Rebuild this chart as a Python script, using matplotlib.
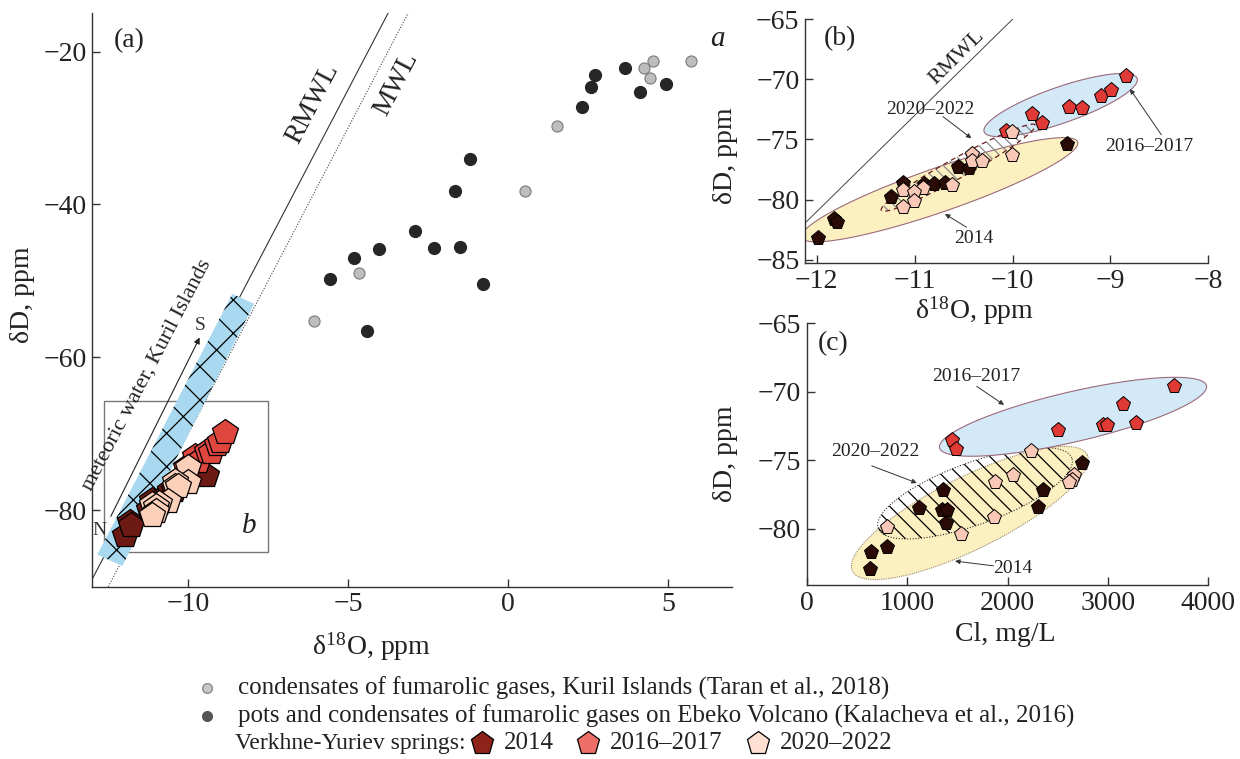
import numpy as np
import matplotlib
matplotlib.use('Agg')
import matplotlib.pyplot as plt
from matplotlib.patches import Polygon, Rectangle
from matplotlib.lines import Line2D

plt.rcParams['font.family'] = ['Liberation Serif', 'DejaVu Serif']
plt.rcParams['mathtext.fontset'] = 'stix'
plt.rcParams['hatch.linewidth'] = 0.9

# ---------------- data ----------------
# panel (a): condensates of fumarolic gases, Kuril Islands (Taran et al., 2018)
kuril_o = [4.54, 4.25, 4.44, 5.74, 1.53, 0.52, -4.65, -6.08]
kuril_d = [-21.2, -22.1, -23.4, -21.3, -29.8, -38.3, -49.0, -55.2]
# pots and condensates on Ebeko Volcano (Kalacheva et al., 2016)
ebeko_o = [3.65, 2.73, 2.59, 2.33, 4.13, 4.93, -1.20, -1.66, -2.92, -2.30,
           -1.50, -0.78, -4.04, -4.80, -5.57, -4.42]
ebeko_d = [-22.1, -23.1, -24.7, -27.2, -25.3, -24.3, -34.1, -38.3, -43.5, -45.7,
           -45.6, -50.4, -45.8, -47.0, -49.8, -56.5]

# Verkhne-Yuriev springs, d18O / dD (panels a and b)
o_2014 = [-11.99, -11.82, -11.79, -11.24, -11.12, -10.90, -10.80, -10.69, -10.56, -10.44, -9.44]
d_2014 = [-83.2, -81.6, -81.9, -79.8, -78.6, -78.7, -78.7, -78.6, -77.3, -77.4, -75.4]
o_2016 = [-10.07, -9.80, -9.70, -9.42, -9.29, -9.10, -8.99, -8.84]
d_2016 = [-74.3, -72.9, -73.6, -72.3, -72.4, -71.4, -70.9, -69.7]
o_2020 = [-10.01, -10.01, -10.41, -10.41, -10.31, -10.62, -10.91, -11.12, -11.01, -11.01, -11.12]
d_2020 = [-74.4, -76.3, -76.2, -76.8, -76.8, -78.8, -79.0, -79.2, -79.4, -80.1, -80.6]

# panel (c): Cl, mg/L vs dD
cl_2014 = [2739, 2357, 2307, 1355, 1122, 1345, 1394, 1388, 803, 637, 630]
dc_2014 = [-75.2, -77.2, -78.4, -77.2, -78.5, -78.6, -78.6, -79.6, -81.3, -81.7, -82.9]
cl_2016 = [3658, 3147, 3280, 2948, 2994, 2500, 1450, 1487]
dc_2016 = [-69.6, -70.9, -72.3, -72.4, -72.4, -72.8, -73.5, -74.2]
cl_2020 = [2231, 2058, 1876, 2662, 2639, 2616, 1869, 1534, 797]
dc_2020 = [-74.3, -76.1, -76.6, -76.1, -76.4, -76.6, -79.1, -80.4, -79.9]

# meteoric water lines: dD = slope * d18O + intercept
mwl_slope = 8
rmwl_icpt = 15
mwl_icpt = 10

TXT = '#222222'
FS = 20


def style_axes(ax):
    for s in ['top', 'right']:
        ax.spines[s].set_visible(False)
    for s in ['left', 'bottom']:
        ax.spines[s].set_color('#333333')
        ax.spines[s].set_linewidth(1.0)
    ax.tick_params(direction='in', length=6, width=1, color='#333333',
                   labelsize=FS, labelcolor=TXT, pad=4)


def ellipse(ax, center, a_px, b_px, ang, **kw):
    # ellipse built in screen pixels so it keeps its look on unequal axes
    t = np.linspace(0, 2 * np.pi, 300)
    cx, cy = ax.transData.transform(center)
    th = np.radians(ang)
    x = a_px * np.cos(t) * np.cos(th) - b_px * np.sin(t) * np.sin(th)
    y = a_px * np.cos(t) * np.sin(th) + b_px * np.sin(t) * np.cos(th)
    pts = ax.transData.inverted().transform(np.column_stack([cx + x, cy + y]))
    p = Polygon(pts, closed=True, **kw)
    ax.add_patch(p)
    return p


def arrow(ax, txt_xy, head_xy):
    ax.annotate('', xy=head_xy, xytext=txt_xy,
                arrowprops=dict(arrowstyle='-|>', lw=0.7, color='#333333',
                                mutation_scale=7, shrinkA=0, shrinkB=0))


def minus(vals):
    return [str(v).replace('-', '\u2212') for v in vals]


XLAB = r'δ$^{\mathregular{18}}$O, ppm'
YLAB = 'δD, ppm'

fig = plt.figure(figsize=(12.4, 7.59), dpi=100)

# ---------------- panel (a) ----------------
ax = fig.add_axes([0.0744, 0.227, 0.5157, 0.7555])
ax.set_xlim(-13, 7)
ax.set_ylim(-90, -15)
style_axes(ax)
ax.set_xticks([-10, -5, 0, 5])
ax.set_yticks([-20, -40, -60, -80])
ax.set_xticklabels(minus([-10, -5, 0, 5]))
ax.set_yticklabels(minus([-20, -40, -60, -80]))

xl = np.array([-13, -3.75])
ax.plot(xl, mwl_slope * xl + rmwl_icpt, color='#333333', lw=0.8)
xm = np.array([-12.5, -3.12])
ax.plot(xm, mwl_slope * xm + mwl_icpt, color='#444444', lw=0.8, ls=(0, (1, 1.5)))

band_o = [-12.84, -8.62, -7.94, -12.06]
band_d = [-85.8, -51.7, -53.0, -87.3]
ax.add_patch(Polygon(np.column_stack([band_o, band_d]), closed=True,
                     facecolor='#a9d9f0', edgecolor='black', lw=0, hatch='x', zorder=2))

ax.add_patch(Rectangle((-12.63, -85.4), 5.13, 19.7, fill=False,
                       edgecolor='#777777', lw=1.0, zorder=1))

ax.annotate('', xy=(-9.64, -57.4), xytext=(-12.42, -80.8),
            arrowprops=dict(arrowstyle='-|>', lw=0.8, color='#222222',
                            mutation_scale=9, shrinkA=0, shrinkB=0))
ax.text(-12.78, -82.6, 'N', fontsize=14, ha='center', va='center', color='#333333')
ax.text(-9.62, -55.9, 'S', fontsize=14, ha='center', va='center', color='#333333')
ang = np.degrees(np.arctan(mwl_slope))
ax.text(-11.3, -62.3, 'meteoric water, Kuril Islands', fontsize=16, rotation=ang,
        transform_rotates_text=True, rotation_mode='anchor', ha='center', va='center',
        color=TXT)
ax.text(-6.1, -26.8, 'RMWL', fontsize=FS, rotation=ang, transform_rotates_text=True,
        rotation_mode='anchor', ha='center', va='center', color=TXT)
ax.text(-3.5, -24.2, 'MWL', fontsize=FS, rotation=ang, transform_rotates_text=True,
        rotation_mode='anchor', ha='center', va='center', color=TXT)

ax.plot(kuril_o, kuril_d, 'o', ms=8, mfc='#bdbdbd', mec='#7a7a7a', mew=0.8, zorder=4)
ax.plot(ebeko_o, ebeko_d, 'o', ms=8.5, mfc='#262626', mec='#262626', zorder=4)

ax.plot(o_2014, d_2014, 'p', ms=19, mfc='#6e1a14', mec='black', mew=0.9, zorder=5)
ax.plot(o_2016, d_2016, 'p', ms=19, mfc='#df463e', mec='black', mew=0.9, zorder=5)
ax.plot(o_2020, d_2020, 'p', ms=19, mfc='#fccfb9', mec='black', mew=0.9, zorder=5)

ax.text(-11.85, -18.6, '(a)', fontsize=FS, ha='center', va='center', color=TXT)
ax.text(6.55, -18.3, 'a', fontsize=21, style='italic', ha='center', va='center', color=TXT)
ax.text(-8.1, -82.0, 'b', fontsize=21, style='italic', ha='center', va='center', color=TXT)

ax.set_xlabel(XLAB, fontsize=FS, color=TXT)
ax.xaxis.set_label_coords(0.437, -0.075)
ax.set_ylabel(YLAB, fontsize=FS, color=TXT)
ax.yaxis.set_label_coords(-0.09, 0.51)

# ---------------- panel (b) ----------------
bx = fig.add_axes([0.6492, 0.6531, 0.3252, 0.3215])
bx.set_xlim(-12.12, -8)
bx.set_ylim(-85.3, -65)
style_axes(bx)
bx.set_xticks([-12, -11, -10, -9, -8])
bx.set_yticks([-65, -70, -75, -80, -85])
bx.set_xticklabels(minus([-12, -11, -10, -9, -8]))
bx.set_yticklabels(minus([-65, -70, -75, -80, -85]))

xr = np.array([-12.12, -10.0])
bx.plot(xr, mwl_slope * xr + rmwl_icpt, color='#444444', lw=0.7)
bx.text(-10.57, -68.2, 'RMWL', fontsize=16, rotation=ang, transform_rotates_text=True,
        rotation_mode='anchor', ha='center', va='center', color=TXT)

ellipse(bx, (-9.508, -72.14), 81, 18, 19.2, facecolor='#d3e9f7', edgecolor='#9a6a7a', lw=0.8, zorder=1)
ellipse(bx, (-10.744, -79.18), 146, 22, 19.1, facecolor='#fcefc0', edgecolor='#9a6a7a', lw=0.8, zorder=2)
ellipse(bx, (-10.554, -77.35), 88, 10, 29, facecolor='none', edgecolor='#8a8a8a', lw=0,
        hatch='\\\\\\', zorder=3)
ellipse(bx, (-10.554, -77.35), 88, 10, 29, fill=False, edgecolor='#6a1e1e', lw=0.9,
        ls=(0, (4, 3)), zorder=3)

bx.plot(o_2014, d_2014, 'p', ms=11, mfc='#2a0a05', mec='black', mew=0.7, zorder=5)
bx.plot(o_2016, d_2016, 'p', ms=11, mfc='#df3a35', mec='black', mew=0.7, zorder=5)
bx.plot(o_2020, d_2020, 'p', ms=11, mfc='#f9c8b6', mec='black', mew=0.7, zorder=5)

bx.text(-10.84, -72.5, '2020\u20132022', fontsize=14, ha='center', va='center', color=TXT)
arrow(bx, (-10.71, -73.1), (-10.42, -74.9))
bx.text(-8.6, -75.6, '2016\u20132017', fontsize=14, ha='center', va='center', color=TXT)
arrow(bx, (-8.48, -74.6), (-8.80, -70.8))
bx.text(-10.40, -83.2, '2014', fontsize=14, ha='center', va='center', color=TXT)
arrow(bx, (-10.47, -82.3), (-10.69, -81.2))
bx.text(-11.76, -66.6, '(b)', fontsize=FS, ha='center', va='center', color=TXT)

bx.set_xlabel(XLAB, fontsize=FS, color=TXT)
bx.xaxis.set_label_coords(0.42, -0.125)
bx.set_ylabel(YLAB, fontsize=FS, color=TXT)
bx.yaxis.set_label_coords(-0.165, 0.44)

# ---------------- panel (c) ----------------
cx = fig.add_axes([0.6506, 0.2292, 0.3239, 0.3448])
cx.patch.set_visible(False)
cx.set_xlim(0, 4000)
cx.set_ylim(-84.1, -65)
style_axes(cx)
cx.set_xticks([0, 1000, 2000, 3000, 4000])
cx.set_yticks([-65, -70, -75, -80])
cx.set_yticklabels(minus([-65, -70, -75, -80]))

ellipse(cx, (1624, -78.84), 131, 36, 26.4, facecolor='#fcefc0', edgecolor='#9a8a6a', lw=0.8,
        ls=(0, (1, 1)), zorder=1)
ellipse(cx, (1676, -77.4), 103, 31, 20, facecolor='none', edgecolor='black', lw=0,
        hatch='\\\\', zorder=2)
ellipse(cx, (1676, -77.4), 103, 31, 20, fill=False, edgecolor='#333333', lw=0.8,
        ls=(0, (1, 1.5)), zorder=2)
ellipse(cx, (2652, -71.82), 137, 25, 13.1, facecolor='#d3e9f7', edgecolor='#9a6a7a', lw=0.8, zorder=3)

cx.plot(cl_2014, dc_2014, 'p', ms=11, mfc='#2a0a05', mec='black', mew=0.7, zorder=5)
cx.plot(cl_2016, dc_2016, 'p', ms=11, mfc='#df3a35', mec='black', mew=0.7, zorder=5)
cx.plot(cl_2020, dc_2020, 'p', ms=11, mfc='#f9c8b6', mec='black', mew=0.7, zorder=5)

cx.text(1693, -68.85, '2016\u20132017', fontsize=14, ha='center', va='center', color=TXT)
arrow(cx, (1693, -69.6), (1965, -70.95))
cx.text(680, -74.35, '2020\u20132022', fontsize=14, ha='center', va='center', color=TXT)
arrow(cx, (647, -75.4), (1096, -76.65))
cx.text(2048, -82.9, '2014', fontsize=14, ha='center', va='center', color=TXT)
arrow(cx, (1859, -82.7), (1477, -82.35))
cx.text(265, -66.46, '(c)', fontsize=FS, ha='center', va='center', color=TXT)

cx.set_xlabel('Cl, mg/L', fontsize=FS, color=TXT)
cx.xaxis.set_label_coords(0.494, -0.14)
cx.set_ylabel(YLAB, fontsize=FS, color=TXT)
cx.yaxis.set_label_coords(-0.172, 0.5)

# ---------------- legend (figure level) ----------------
rows_y = [1 - 688 / 759, 1 - 716 / 759, 1 - 743 / 759]
LFS = 18
fig.add_artist(Line2D([0.1669], [rows_y[0]], marker='o', ms=7, mfc='#c8c8c8', mec='#8a8a8a',
                      transform=fig.transFigure))
fig.text(0.1919, rows_y[0], 'condensates of fumarolic gases, Kuril Islands (Taran et al., 2018)',
         fontsize=LFS, va='center', color=TXT)
fig.add_artist(Line2D([0.1669], [rows_y[1]], marker='o', ms=7, mfc='#555555', mec='#555555',
                      transform=fig.transFigure))
fig.text(0.1919, rows_y[1], 'pots and condensates of fumarolic gases on Ebeko Volcano (Kalacheva et al., 2016)',
         fontsize=LFS, va='center', color=TXT)
fig.text(0.1895, rows_y[2], 'Verkhne-Yuriev springs:', fontsize=17, va='center', color=TXT)
leg_items = [('2014', '#8e2419', 482 / 1240), ('2016\u20132017', '#ee6f68', 588 / 1240),
             ('2020\u20132022', '#fde0d2', 758 / 1240)]
for lab, col, xp in leg_items:
    fig.add_artist(Line2D([xp], [rows_y[2]], marker='p', ms=17, mfc=col, mec='black', mew=0.9,
                          transform=fig.transFigure))
    fig.text(xp + 22 / 1240, rows_y[2], lab, fontsize=LFS, va='center', color=TXT)

fig.savefig('out.png', dpi=100)
